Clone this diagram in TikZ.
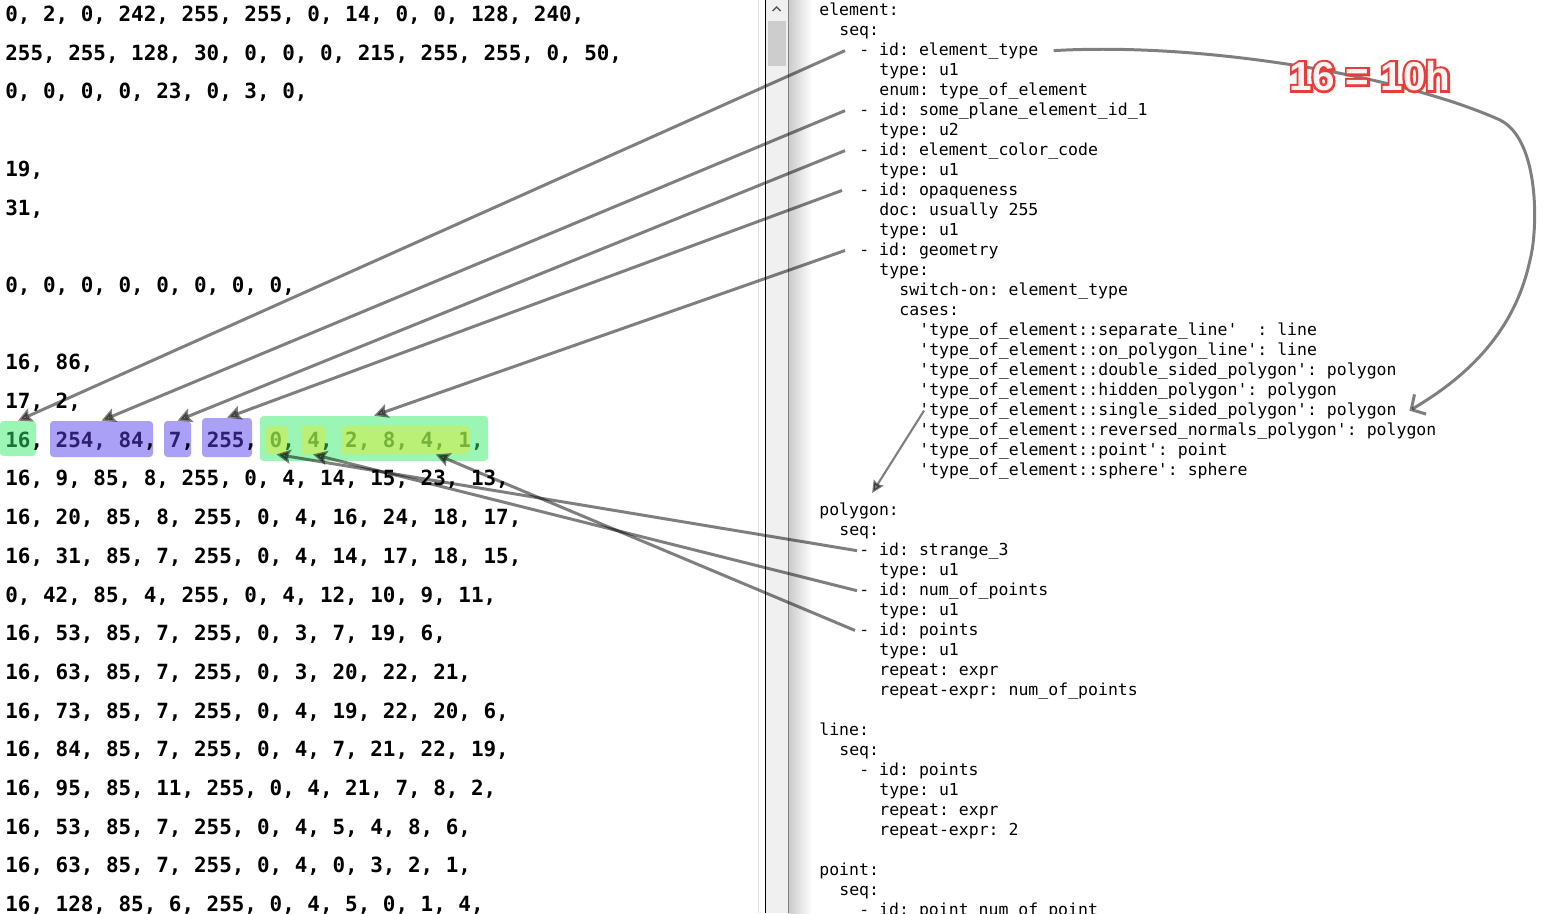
\documentclass[tikz,border=0pt]{standalone}
\usepackage{fontspec}
\usepackage{xcolor}
\usepackage{tikz}
\usetikzlibrary{positioning, arrows.meta, fit, calc}

\newfontfamily\bytefont{DejaVu Sans Mono}
\newfontfamily\ymlfont{DejaVu Sans Mono}
\newfontfamily\tagfont{Liberation Sans Bold}
\newfontfamily\tagrimfont{Liberation Sans Bold}[FakeBold=12]
\frenchspacing

\definecolor{idgreen}{RGB}{155,245,180}
\definecolor{idpurple}{RGB}{170,160,245}
\definecolor{idyellow}{RGB}{187,240,118}
\definecolor{grntxt}{RGB}{28,112,58}
\definecolor{purtxt}{RGB}{44,30,112}
\definecolor{olvtxt}{RGB}{118,178,58}
\definecolor{tagred}{RGB}{232,60,56}
\definecolor{tagpink}{RGB}{255,244,244}
\definecolor{trackgray}{RGB}{240,240,240}
\definecolor{thumbgray}{RGB}{205,205,205}

\begin{document}
\begin{tikzpicture}[
    x=0.02cm, y=-0.02cm,
    raw/.style={anchor=base west, inner sep=0pt,
        font=\bytefont\bfseries\fontsize{11.9pt}{14pt}\selectfont},
    yml/.style={anchor=base west, inner sep=0pt,
        font=\ymlfont\fontsize{9.4pt}{11pt}\selectfont},
    hl/.style={draw=none, rounded corners=2pt, inner sep=0pt},
    link/.style={-{Stealth[length=8pt,width=8pt,inset=1.5pt]}, line width=1.7pt, draw=black, opacity=0.5},
    tag/.style={inner sep=0pt, font=\tagfont\fontsize{23pt}{26pt}\selectfont}
]

\useasboundingbox (0,0) rectangle (1551,913);
\clip (0,0) rectangle (1551,913);

% panel border and scrollbar
\fill[gray!25] (757.5,0) rectangle (759,913);
\fill[black] (765,0) rectangle (766.2,913);
\fill[trackgray] (766.2,0) rectangle (787.5,913);
\fill[thumbgray] (768,21) rectangle (786,66);
\draw[gray!70!black, line width=0.8pt] (772.5,11) -- (776.5,7) -- (780.5,11);
\fill[gray] (787.5,0) rectangle (789,913);
\shade[left color=gray!40, right color=white] (789,0) rectangle (812,913);

% highlighted fields
\node[hl, fill=idgreen, fit={(0,421) (36,456)}] (b16) {};
\node[hl, fill=idpurple, fit={(50,421) (153,457)}] (bid) {};
\node[hl, fill=idpurple, fit={(164,421) (191,457)}] (bcol) {};
\node[hl, fill=idpurple, fit={(202,418) (252,457)}] (bop) {};
\node[hl, fill=idgreen, fit={(260,416) (488,461)}] (bgeo) {};
\node[hl, fill=idyellow, fit={(266,426) (287,454)}] (bstr) {};
\node[hl, fill=idyellow, fit={(301,426) (325,454)}] (bnum) {};
\node[hl, fill=idyellow, fit={(341,426) (469,454)}] (bpts) {};

% raw bytes
\foreach \r/\txt in {
    0/{0, 2, 0, 242, 255, 255, 0, 14, 0, 0, 128, 240,},
    1/{255, 255, 128, 30, 0, 0, 0, 215, 255, 255, 0, 50,},
    2/{0, 0, 0, 0, 23, 0, 3, 0,},
    4/{19,},
    5/{31,},
    7/{0, 0, 0, 0, 0, 0, 0, 0,},
    9/{16, 86,},
    10/{17, 2,},
    12/{16, 9, 85, 8, 255, 0, 4, 14, 15, 23, 13,},
    13/{16, 20, 85, 8, 255, 0, 4, 16, 24, 18, 17,},
    14/{16, 31, 85, 7, 255, 0, 4, 14, 17, 18, 15,},
    15/{0, 42, 85, 4, 255, 0, 4, 12, 10, 9, 11,},
    16/{16, 53, 85, 7, 255, 0, 3, 7, 19, 6,},
    17/{16, 63, 85, 7, 255, 0, 3, 20, 22, 21,},
    18/{16, 73, 85, 7, 255, 0, 4, 19, 22, 20, 6,},
    19/{16, 84, 85, 7, 255, 0, 4, 7, 21, 22, 19,},
    20/{16, 95, 85, 11, 255, 0, 4, 21, 7, 8, 2,},
    21/{16, 53, 85, 7, 255, 0, 4, 5, 4, 8, 6,},
    22/{16, 63, 85, 7, 255, 0, 4, 0, 3, 2, 1,},
    23/{16, 128, 85, 6, 255, 0, 4, 5, 0, 1, 4,}}
    \node[raw] (raw\r) at (5,{21.5+38.7*\r}) {\txt};

\node[raw] (raw11) at (5,{21.5+38.7*11}) {\textcolor{grntxt}{16}, \textcolor{purtxt}{254, 84}, \textcolor{purtxt}{7}, \textcolor{purtxt}{255}, \textcolor{olvtxt}{0}\textcolor{grntxt}{, }\textcolor{olvtxt}{4}\textcolor{grntxt}{, }\textcolor{olvtxt}{2, 8, 4, 1}\textcolor{grntxt}{,}};

% ksy listing
\foreach \i/\ind/\txt in {
    0/0/element:, 1/2/seq:,
    2/4/- id: element\_type, 3/6/type: u1, 4/6/enum: type\_of\_element,
    5/4/- id: some\_plane\_element\_id\_1, 6/6/type: u2,
    7/4/- id: element\_color\_code, 8/6/type: u1,
    9/4/- id: opaqueness, 10/6/doc: usually 255, 11/6/type: u1,
    12/4/- id: geometry, 13/6/type:,
    14/8/switch-on: element\_type, 15/8/cases:,
    16/10/'type\_of\_element::separate\_line'~~: line,
    17/10/'type\_of\_element::on\_polygon\_line': line,
    18/10/'type\_of\_element::double\_sided\_polygon': polygon,
    19/10/'type\_of\_element::hidden\_polygon': polygon,
    20/10/'type\_of\_element::single\_sided\_polygon': polygon,
    21/10/'type\_of\_element::reversed\_normals\_polygon': polygon,
    22/10/'type\_of\_element::point': point,
    23/10/'type\_of\_element::sphere': sphere,
    25/0/polygon:, 26/2/seq:,
    27/4/- id: strange\_3, 28/6/type: u1,
    29/4/- id: num\_of\_points, 30/6/type: u1,
    31/4/- id: points, 32/6/type: u1, 33/6/repeat: expr,
    34/6/repeat-expr: num\_of\_points,
    36/0/line:, 37/2/seq:,
    38/4/- id: points, 39/6/type: u1, 40/6/repeat: expr,
    41/6/repeat-expr: 2,
    43/0/point:, 44/2/seq:,
    45/4/- id: point\_num\_of\_point}
    \node[yml] (yml\i) at ({819+10*\ind},{15+20*\i}) {\txt};

% element fields
\draw[link] ([xshift=-0.28cm]yml2.west) -- (b16.north);
\draw[link] ([xshift=-0.28cm]yml5.west) -- (bid.north);
\draw[link] ([xshift=-0.28cm]yml7.west) -- (bcol.north);
\draw[link] ([xshift=-0.34cm]yml9.west) -- (bop.north);
\draw[link] ([xshift=-0.28cm]yml12.west) -- (bgeo.north);

% polygon fields
\draw[link] ([xshift=-0.04cm]yml27.west) -- (bstr.south);
\draw[link] ([xshift=-0.04cm]yml29.west) -- (bnum.south);
\draw[link] ([xshift=-0.08cm]yml31.west) -- (bpts.-25);

% type switch
\draw[link, -{Straight Barb[length=6pt,width=13pt]}] ([xshift=0.3cm]yml2.east)
    .. controls (1200,42) and (1400,75) .. (1500,120)
    .. controls (1540,140) and (1538,230) .. (1530,260)
    .. controls (1515,330) and (1470,375) .. ([xshift=0.25cm]yml20.east);
\draw[link, line width=1.2pt, -{Stealth[length=7pt,width=6.5pt,inset=1pt]}] ([xshift=0.1cm]yml20.west) -- ([shift={(0.26cm,0.18cm)}]yml25.north);

% note
\node[tag, font=\tagrimfont\fontsize{23pt}{26pt}\selectfont, text=tagred] (tagrim) at (1370,76) {16 = 10h};
\node[tag, text=tagpink] (tag) at (tagrim.center) {16 = 10h};

\end{tikzpicture}
\end{document}
